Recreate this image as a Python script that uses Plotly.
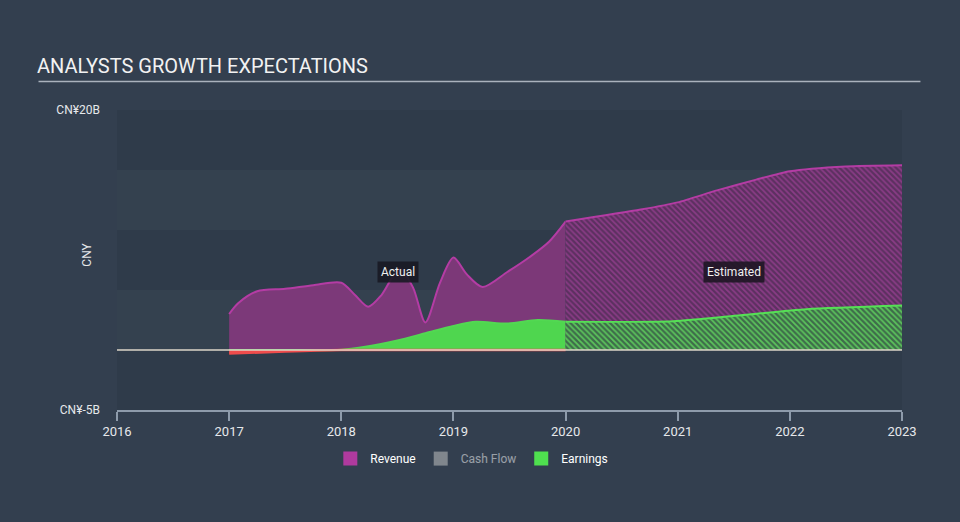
import plotly.graph_objects as go

# revenue, CNY billions
rev_act_x = [2017.0, 2017.08, 2017.25, 2017.5, 2017.75, 2018.0, 2018.12, 2018.24, 2018.36,
             2018.52, 2018.64, 2018.75, 2018.88, 2019.0, 2019.12, 2019.26, 2019.48, 2019.68, 2019.85, 2020.0]
rev_act_y = [3.0, 3.9, 4.9, 5.1, 5.4, 5.6, 4.6, 3.6, 4.6,
             6.8, 5.2, 2.3, 5.6, 7.7, 6.3, 5.25, 6.5, 7.75, 9.0, 10.7]
rev_est_x = [2020.0, 2020.67, 2021.0, 2021.35, 2021.7, 2022.0, 2022.5, 2023.0]
rev_est_y = [10.7, 11.7, 12.3, 13.3, 14.2, 14.9, 15.3, 15.4]

# earnings, CNY billions
earn_act_x = [2017.0, 2017.5, 2018.0, 2018.2, 2018.5, 2018.75, 2019.0, 2019.2, 2019.48, 2019.75, 2020.0]
earn_act_y = [-0.3, -0.12, 0.02, 0.25, 0.8, 1.4, 2.0, 2.35, 2.2, 2.5, 2.35]
earn_est_x = [2020.0, 2020.96, 2021.56, 2022.15, 2023.0]
earn_est_y = [2.35, 2.4, 2.9, 3.4, 3.7]

bg = "#333f4f"
dark_band = "#2f3b4a"

fig = go.Figure()

# revenue
fig.add_trace(go.Scatter(
    x=rev_act_x, y=rev_act_y, mode="lines", line=dict(color="#b43ca4", width=2, shape="spline", smoothing=0.8),
    fill="tozeroy", fillcolor="rgba(137,56,128,0.85)", showlegend=False, hoverinfo="skip"))
fig.add_trace(go.Scatter(
    x=rev_est_x, y=rev_est_y, mode="lines", line=dict(color="#b43ca4", width=2, shape="spline", smoothing=0.6),
    fill="tozeroy", fillcolor="rgba(98,48,96,0.9)",
    fillpattern=dict(shape="\\", fgcolor="#8a3c86", size=4, solidity=0.45, fillmode="replace", bgcolor="#5c3060"),
    showlegend=False, hoverinfo="skip"))

# earnings (positive green, negative red)
fig.add_trace(go.Scatter(
    x=earn_act_x, y=[max(v, 0) for v in earn_act_y], mode="lines",
    line=dict(color="#52d852", width=2, shape="spline", smoothing=0.8),
    fill="tozeroy", fillcolor="#4fd64f", showlegend=False, hoverinfo="skip"))
fig.add_trace(go.Scatter(
    x=earn_act_x, y=[min(v, 0) for v in earn_act_y], mode="lines",
    line=dict(color="#ef4c4c", width=2.5, shape="spline"),
    fill="tozeroy", fillcolor="#ef4c4c", showlegend=False, hoverinfo="skip"))
fig.add_trace(go.Scatter(
    x=earn_est_x, y=earn_est_y, mode="lines", line=dict(color="#55e055", width=2, shape="spline", smoothing=0.6),
    fill="tozeroy",
    fillpattern=dict(shape="\\", fgcolor="#5cc45c", size=4, solidity=0.45, fillmode="replace", bgcolor="#3e6c4a"),
    showlegend=False, hoverinfo="skip"))

# legend entries
for name, col, vis in [("Revenue", "#b03a9e", True), ("Cash Flow", "#cccccc", "legendonly"), ("Earnings", "#4fe04f", True)]:
    fig.add_trace(go.Scatter(x=[None], y=[None], mode="markers", name=name, visible=vis,
                             marker=dict(symbol="square", size=14, color=col)))

shapes = []
for y0, y1 in [(15, 20), (5, 10), (-5, 0)]:
    shapes.append(dict(type="rect", xref="paper", yref="y", x0=0, x1=1, y0=y0, y1=y1,
                       fillcolor=dark_band, line=dict(width=0), layer="below"))
shapes.append(dict(type="line", xref="paper", yref="y", x0=0, x1=1, y0=0, y1=0,
                   line=dict(color="#dcd6c8", width=1.5), layer="above"))
# title underline
shapes.append(dict(type="line", xref="paper", yref="paper", x0=-0.1, x1=1.0235, y0=1.095, y1=1.095,
                   line=dict(color="#aab2bd", width=1.5)))

fig.update_layout(
    width=960, height=522,
    paper_bgcolor=bg, plot_bgcolor="#34414f",
    margin=dict(l=117, r=58, t=110, b=112),
    font=dict(family="Roboto, sans-serif", color="#e6e8eb", size=12),
    shapes=shapes,
    showlegend=True,
    legend=dict(orientation="h", x=0.452, xanchor="center", y=-0.162, yanchor="middle",
                font=dict(size=12, color="#ffffff"), itemwidth=30, bgcolor="rgba(0,0,0,0)"),
    xaxis=dict(range=[2016, 2023.0], tickvals=list(range(2016, 2024)), showgrid=False, zeroline=False,
               showline=True, linecolor="#8e9bab", linewidth=1.5, ticks="outside", ticklen=9,
               tickcolor="#8e9bab", tickwidth=1.5, tickfont=dict(size=13, color="#e6e8eb")),
    yaxis=dict(range=[-5, 20], tickvals=[20, -5], ticktext=["CN¥20B", "CN¥-5B"], showgrid=False,
               zeroline=False, showline=False, ticks="", ticklabelstandoff=16,
               tickfont=dict(size=12, color="#e6e8eb")),
    annotations=[
        dict(text="ANALYSTS GROWTH EXPECTATIONS", xref="paper", yref="paper", x=-0.104, y=1.1,
             xanchor="left", yanchor="bottom", showarrow=False, font=dict(size=20, color="#f2f2f2")),
        dict(text="CNY", xref="paper", yref="paper", x=-0.05, y=0.517, textangle=-90,
             showarrow=False, font=dict(size=12, color="#e6e8eb")),
        dict(text="Actual", x=2018.51, y=6.5, showarrow=False, bgcolor="rgba(24,26,36,0.9)",
             font=dict(size=12, color="#f0f0f0"), borderpad=3),
        dict(text="Estimated", x=2021.5, y=6.5, showarrow=False, bgcolor="rgba(30,22,36,0.9)",
             font=dict(size=12, color="#f0f0f0"), borderpad=3),
    ],
)

fig.write_html("out.html", config={"displayModeBar": False},
               post_script="document.body.style.margin='0';")
